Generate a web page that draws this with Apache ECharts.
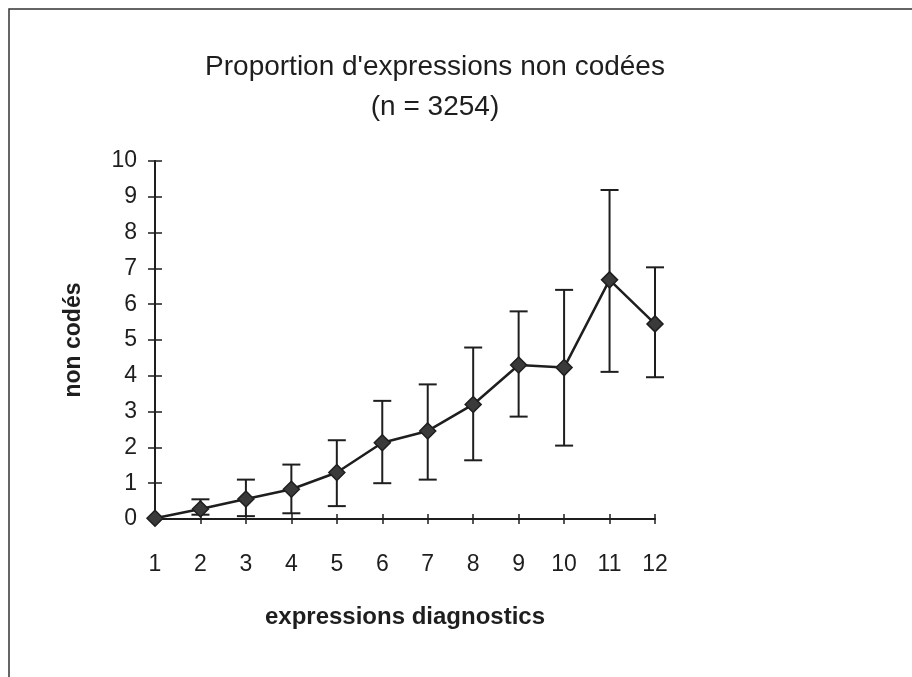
<!DOCTYPE html>
<html>
<head>
<meta charset="utf-8">
<script src="https://cdn.jsdelivr.net/npm/echarts@6/dist/echarts.min.js"></script>
<style>
  html, body { margin: 0; padding: 0; background: #fff; }
  #chart { width: 912px; height: 677px; }
</style>
</head>
<body>
<div id="chart"></div>
<script>
// expressions diagnostics (x) vs proportion non codées (y)
const xValues = [1, 2, 3, 4, 5, 6, 7, 8, 9, 10, 11, 12];
const means   = [0.02, 0.28, 0.56, 0.83, 1.30, 2.13, 2.46, 3.20, 4.30, 4.23, 6.68, 5.45];
const upper   = [0.02, 0.55, 1.10, 1.52, 2.20, 3.30, 3.76, 4.79, 5.80, 6.40, 9.19, 7.03];
const lower   = [0.02, 0.12, 0.08, 0.16, 0.36, 1.00, 1.10, 1.64, 2.86, 2.05, 4.11, 3.96];
const yTicks  = [0, 1, 2, 3, 4, 5, 6, 7, 8, 9, 10];

const ink = '#1e1e1e';
const font = 'Liberation Sans, Arial, sans-serif';

const lineData = xValues.map((x, i) => [x, means[i]]);
const errData = xValues.map((x, i) => [x, lower[i], upper[i]]);

function renderErr(params, api) {
  const x = api.value(0);
  const lo = api.coord([x, api.value(1)]);
  const hi = api.coord([x, api.value(2)]);
  const half = 9;
  const style = { stroke: ink, lineWidth: 2 };
  if (api.value(2) - api.value(1) < 0.05) return null;
  return {
    type: 'group',
    children: [
      { type: 'line', shape: { x1: hi[0], y1: hi[1], x2: lo[0], y2: lo[1] }, style },
      { type: 'line', shape: { x1: hi[0] - half, y1: hi[1], x2: hi[0] + half, y2: hi[1] }, style },
      { type: 'line', shape: { x1: lo[0] - half, y1: lo[1], x2: lo[0] + half, y2: lo[1] }, style }
    ]
  };
}

const axisLabel = { color: ink, fontSize: 23, fontFamily: font };

const chart = echarts.init(document.getElementById('chart'));
chart.setOption({
  backgroundColor: '#fff',
  animation: false,
  title: {
    text: "Proportion d'expressions non codées\n(n = 3254)",
    left: 430,
    top: 42,
    textAlign: 'center',
    textStyle: { color: ink, fontSize: 28, fontWeight: 'normal', fontFamily: font, lineHeight: 40 }
  },
  graphic: [
    { type: 'rect', shape: { x: 9, y: 9, width: 1000, height: 1000 },
      style: { fill: 'none', stroke: '#333', lineWidth: 1.5 }, z: 100 }
  ],
  grid: { left: 155, right: 257, top: 161, bottom: 158 },
  xAxis: [
    {
      type: 'value', min: 1, max: 12, interval: 1,
      name: 'expressions diagnostics', nameLocation: 'middle', nameGap: 86,
      nameTextStyle: { color: ink, fontSize: 24, fontWeight: 'bold', fontFamily: font },
      axisLine: { lineStyle: { color: ink, width: 2 } },
      axisTick: { show: true, length: 5, lineStyle: { color: ink, width: 1.5 } },
      axisLabel: Object.assign({ margin: 34 }, axisLabel),
      splitLine: { show: false }
    },
    {
      type: 'value', min: 1, max: 12, interval: 1, position: 'bottom',
      axisLine: { show: false },
      axisTick: { show: true, inside: true, length: 5, lineStyle: { color: ink, width: 1.5 } },
      axisLabel: { show: false },
      splitLine: { show: false }
    }
  ],
  yAxis: [
    {
      type: 'value', min: 0, max: 10, interval: 1,
      name: 'non codés', nameLocation: 'middle', nameGap: 70, nameRotate: 90,
      nameTextStyle: { color: ink, fontSize: 23, fontWeight: 'bold', fontFamily: font },
      axisLine: { show: true, lineStyle: { color: ink, width: 2 } },
      axisTick: { show: true, length: 7, lineStyle: { color: ink, width: 1.5 } },
      axisLabel: Object.assign({ margin: 18, formatter: v => yTicks.includes(v) ? String(v) : '' }, axisLabel),
      splitLine: { show: false }
    },
    {
      type: 'value', min: 0, max: 10, interval: 1, position: 'left',
      axisLine: { show: false },
      axisTick: { show: true, inside: true, length: 7, lineStyle: { color: ink, width: 1.5 } },
      axisLabel: { show: false },
      splitLine: { show: false }
    }
  ],
  series: [
    {
      type: 'custom',
      renderItem: renderErr,
      data: errData,
      encode: { x: 0, y: [1, 2] },
      z: 2
    },
    {
      type: 'line',
      data: lineData,
      symbol: 'diamond',
      symbolSize: 16,
      lineStyle: { color: ink, width: 2.5 },
      itemStyle: { color: '#3a3a3a', borderColor: ink, borderWidth: 1.5 },
      z: 3
    }
  ]
});
</script>
</body>
</html>
